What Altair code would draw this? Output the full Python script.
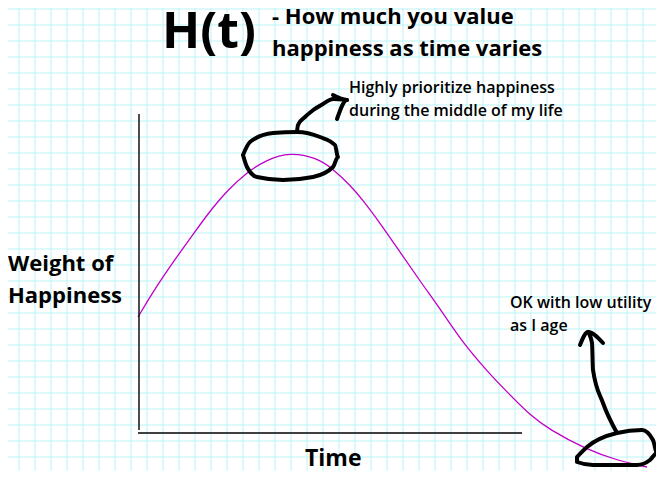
import altair as alt
import pandas as pd

# ---- data (canvas units: left->right, top->bottom) ----
curve_t = [138, 156, 176, 194, 213, 228, 246, 266, 290, 317, 332, 350, 362,
           380, 400, 420, 443, 463, 487, 507, 532, 549, 585, 619, 647]
curve_w = [317, 287, 258, 233, 207, 190, 173, 160, 152, 158, 168, 185, 199,
           223, 252, 281, 313, 343, 371, 392, 417, 429, 449, 461, 467]

peak_loop_x = [243, 250, 273, 297, 320, 335, 338, 333, 313, 283, 257, 247, 243]
peak_loop_y = [155, 142, 133, 132, 137, 145, 157, 167, 177, 180, 177, 167, 155]
peak_arrow_x = [297, 298, 305, 312, 323, 333, 347]
peak_arrow_y = [132, 125, 117, 111, 104, 99, 100]
peak_head_x = [333, 347, 337]
peak_head_y = [95, 100, 119]

low_loop_x = [577, 587, 617, 642, 653, 657, 650, 637, 593, 577, 577]
low_loop_y = [457, 447, 433, 430, 440, 453, 460, 465, 465, 462, 457]
low_arrow_x = [617, 603, 593, 592, 588]
low_arrow_y = [433, 403, 370, 343, 332]
low_head_x = [580, 588, 603]
low_head_y = [345, 332, 343]

grid_x = list(range(19, 656, 16))
grid_y = list(range(9, 472, 16))

title_main = "H(t)"
title_sub = ["- How much you value", "happiness as time varies"]
note_peak = ["Highly prioritize happiness", "during the middle of my life"]
note_low = ["OK with low utility", "as I age"]
y_label = ["Weight of", "Happiness"]
x_label = "Time"

# ---- tables ----
curve_df = pd.DataFrame({"t": curve_t, "w": curve_w, "i": range(len(curve_t))})
grid_v_df = pd.DataFrame({"t": grid_x})
grid_h_df = pd.DataFrame({"w": grid_y})

strokes = []
for name, xs_, ys_ in [("peak_loop", peak_loop_x, peak_loop_y),
                       ("peak_arrow", peak_arrow_x, peak_arrow_y),
                       ("peak_head", peak_head_x, peak_head_y),
                       ("low_loop", low_loop_x, low_loop_y),
                       ("low_arrow", low_arrow_x, low_arrow_y),
                       ("low_head", low_head_x, low_head_y)]:
    for k, (a, b) in enumerate(zip(xs_, ys_)):
        strokes.append({"t": a, "w": b, "shape": name, "i": k})
strokes_df = pd.DataFrame(strokes)

GRID = "#bdf3f6"
xs = alt.Scale(domain=[8, 656], nice=False, zero=False)
ys = alt.Scale(domain=[8, 471], nice=False, zero=False, reverse=True)

grid_v = alt.Chart(grid_v_df).mark_rule(color=GRID, strokeWidth=1).encode(
    x=alt.X("t:Q", scale=xs, axis=None))
grid_h = alt.Chart(grid_h_df).mark_rule(color=GRID, strokeWidth=1).encode(
    y=alt.Y("w:Q", scale=ys, axis=None))

curve = alt.Chart(curve_df).mark_line(
    color="#c000c8", strokeWidth=1.3, interpolate="basis"
).encode(
    x=alt.X("t:Q", scale=xs, axis=None),
    y=alt.Y("w:Q", scale=ys, axis=None),
    order="i:Q",
)

drawing = alt.Chart(strokes_df).mark_line(
    color="black", strokeWidth=4, strokeCap="round", strokeJoin="round",
    interpolate="monotone"
).encode(
    x=alt.X("t:Q", scale=xs, axis=None),
    y=alt.Y("w:Q", scale=ys, axis=None),
    detail="shape:N",
    order="i:Q",
)

one = alt.Data(values=[{}])

y_axis_line = alt.Chart(one).mark_rule(color="black", strokeWidth=1.4).encode(
    x=alt.value(131), y=alt.value(106), y2=alt.value(422))
x_axis_line = alt.Chart(one).mark_rule(color="black", strokeWidth=1.4).encode(
    x=alt.value(130), x2=alt.value(514), y=alt.value(425))


def label(text, x, y, size, weight="bold", line_height=None):
    kw = dict(align="left", baseline="alphabetic", font="Open Sans",
              fontSize=size, fontWeight=weight, color="black")
    if line_height is not None:
        kw["lineHeight"] = line_height
    return alt.Chart(one).mark_text(**kw).encode(
        x=alt.value(x - 8), y=alt.value(y - 8), text=alt.value(text))


texts = [
    label(title_main, 162, 48, 50),
    label(title_sub, 272, 24, 22, line_height=32),
    label(note_peak, 349, 93, 16, weight=600, line_height=23),
    label(y_label, 8, 271, 22, line_height=32),
    label(x_label, 305, 466, 23),
    label(note_low, 510, 308, 16, weight=600, line_height=23),
]

chart = alt.layer(grid_v, grid_h, curve, y_axis_line, x_axis_line, drawing, *texts).properties(
    width=648, height=463, padding=0, autosize=alt.AutoSizeParams(type="none"),
    background="white",
).configure_view(stroke=None)

chart.save("out.html", embed_options={"renderer": "svg", "actions": False})
